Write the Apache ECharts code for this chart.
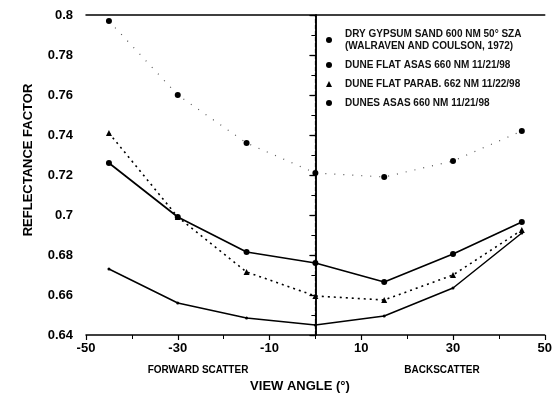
<!DOCTYPE html>
<html><head><meta charset="utf-8">
<script src="https://cdn.jsdelivr.net/npm/echarts@6/dist/echarts.min.js"></script>
<style>html,body{margin:0;padding:0;background:#fff}#c{width:555px;height:396px}</style>
</head><body><div id="c"></div>
<script>
const angles = [-45, -30, -15, 0, 15, 30, 45];
const gypsum = [0.797, 0.760, 0.736, 0.721, 0.719, 0.727, 0.742];
const flatAsas = [0.726, 0.699, 0.6815, 0.676, 0.6665, 0.6805, 0.6965];
const flatParab = [0.741, 0.699, 0.6715, 0.6595, 0.6575, 0.670, 0.6925];
const dunesAsas = [0.673, 0.656, 0.6485, 0.645, 0.6495, 0.6635, 0.691];
const names = ['DRY GYPSUM SAND 600 NM 50° SZA', 'DUNE FLAT ASAS 660 NM 11/21/98', 'DUNE FLAT PARAB. 662 NM 11/22/98', 'DUNES ASAS 660 NM 11/21/98'];
const nameLine2 = '(WALRAVEN AND COULSON, 1972)';
const xTicks = [-50, -30, -10, 10, 30, 50];

const pts = v => angles.map((a, i) => [a, v[i]]);
const F = 'Liberation Sans, Arial, sans-serif';
const chart = echarts.init(document.getElementById('c'));
chart.setOption({
  animation: false,
  grid: {left: 86, right: 10, top: 15, bottom: 61},
  legend: {
    orient: 'vertical', left: 321, top: 23, itemGap: 7, itemWidth: 6, itemHeight: 6,
    textStyle: {fontFamily: F, fontSize: 10, lineHeight: 12, fontWeight: 'bold', color: '#111', padding: [0, 0, 0, 8]},
    formatter: n => n === names[0] ? n + '\n' + nameLine2 : n,
    data: [
      {name: names[0], icon: 'circle'},
      {name: names[1], icon: 'circle'},
      {name: names[2], icon: 'triangle'},
      {name: names[3], icon: 'circle'}
    ]
  },
  xAxis: [{
    type: 'value', min: -50, max: 50, interval: 20,
    axisLine: {lineStyle: {color: '#000', width: 1.5}},
    axisTick: {show: true, inside: false, length: 5, lineStyle: {color: '#000', width: 1.2}},
    minorTick: {show: true, splitNumber: 2, length: 4, lineStyle: {color: '#000'}},
    splitLine: {show: false},
    axisLabel: {color: '#000', fontFamily: F, fontSize: 13, fontWeight: 'bold', margin: 7,
      formatter: v => xTicks.includes(v) ? String(v) : ''}
  }, {
    type: 'value', min: -50, max: 50, position: 'top',
    axisLine: {show: true, lineStyle: {color: '#000', width: 1.5}},
    axisTick: {show: false}, axisLabel: {show: false}, splitLine: {show: false}
  }],
  yAxis: [{
    type: 'value', min: 0.64, max: 0.8, interval: 0.02,
    axisLine: {show: true, lineStyle: {color: '#000', width: 1.5}},
    axisTick: {show: true, inside: false, length: 6, lineStyle: {color: '#000', width: 1.2}},
    minorTick: {show: true, splitNumber: 2, length: 4, lineStyle: {color: '#000', width: 1}},
    splitLine: {show: false},
    axisLabel: {color: '#000', fontFamily: F, fontSize: 13, fontWeight: 'bold', margin: 13,
      formatter: v => String(+v.toFixed(2))}
  }, {
    type: 'value', min: 0.64, max: 0.8, interval: 0.02, position: 'right',
    axisLine: {show: true, lineStyle: {color: '#000', width: 1.5}},
    axisTick: {show: true, inside: true, length: 5, lineStyle: {color: '#000', width: 1.2}},
    minorTick: {show: false},
    axisLabel: {show: false}, splitLine: {show: false}
  }],
  graphic: [
    {type: 'text', x: 28, y: 160, rotation: Math.PI / 2,
      style: {text: 'REFLECTANCE FACTOR', font: 'bold 13px ' + F, fill: '#000', align: 'center', verticalAlign: 'middle'}},
    {type: 'text', x: 198, y: 370, style: {text: 'FORWARD SCATTER', font: 'bold 10px ' + F, fill: '#000', align: 'center', verticalAlign: 'middle'}},
    {type: 'text', x: 442, y: 370, style: {text: 'BACKSCATTER', font: 'bold 10px ' + F, fill: '#000', align: 'center', verticalAlign: 'middle'}},
    {type: 'text', x: 300, y: 386, style: {text: 'VIEW ANGLE (°)', font: 'bold 13px ' + F, fill: '#000', align: 'center', verticalAlign: 'middle'}}
  ],
  series: [
    {name: names[0], type: 'line', data: pts(gypsum), symbol: 'circle', symbolSize: 6,
      lineStyle: {color: '#555', width: 1.2, type: [1, 8]}, itemStyle: {color: '#000'},
      markLine: {silent: true, symbol: 'none', label: {show: false},
        lineStyle: {color: '#000', width: 1.2, type: [4, 2]}, data: [{xAxis: 0}]}},
    {name: names[1], type: 'line', data: pts(flatAsas), symbol: 'circle', symbolSize: 6,
      lineStyle: {color: '#000', width: 1.7}, itemStyle: {color: '#000'}},
    {name: names[2], type: 'line', data: pts(flatParab), symbol: 'triangle', symbolSize: 6,
      lineStyle: {color: '#000', width: 1.6, type: [2, 4]}, itemStyle: {color: '#000'}},
    {name: names[3], type: 'line', data: pts(dunesAsas), symbol: 'circle', symbolSize: 3,
      lineStyle: {color: '#000', width: 1.5}, itemStyle: {color: '#000'}}
  ]
});
</script></body></html>
